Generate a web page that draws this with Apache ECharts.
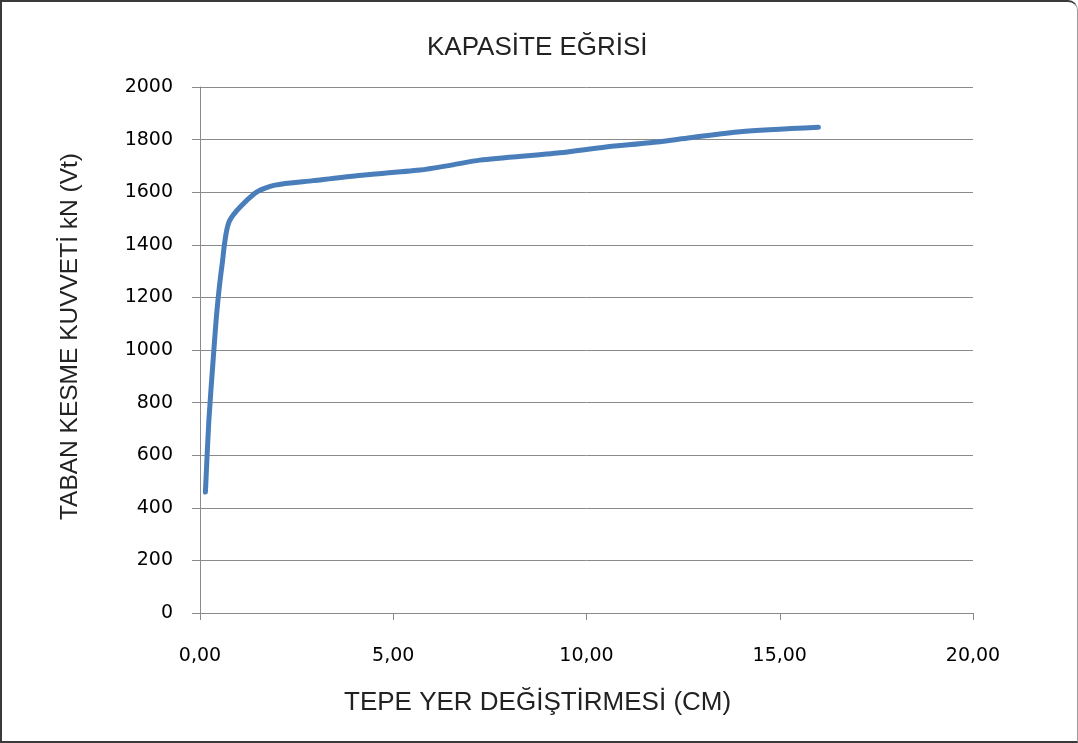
<!DOCTYPE html>
<html>
<head>
<meta charset="utf-8">
<script src="https://cdn.jsdelivr.net/npm/echarts@6/dist/echarts.min.js"></script>
<style>
html,body{margin:0;padding:0;background:#fff;}
#frame{position:absolute;left:0;top:0;width:1078px;height:743px;box-sizing:border-box;border:2px solid #3a3a3a;border-right:1px solid #9a9a9a;border-top-right-radius:10px;}
#chart{position:absolute;left:0;top:0;width:1078px;height:743px;}
</style>
</head>
<body>
<div id="chart"></div>
<div id="frame"></div>
<script>
const chartTitle = 'KAPASİTE EĞRİSİ';
const xTitle = 'TEPE YER DEĞİŞTİRMESİ (CM)';
const yTitle = 'TABAN KESME KUVVETİ kN (Vt)';
const displacement = [0.14, 0.23, 0.34, 0.44, 0.57, 0.76, 1.42, 1.94, 2.93, 4.00, 5.69, 6.50, 7.24, 9.31, 10.50, 11.64, 12.68, 13.97, 16.00];
const baseShear   = [460, 734, 962, 1152, 1323, 1490, 1596, 1627, 1644, 1662, 1684, 1703, 1722, 1750, 1772, 1788, 1807, 1830, 1847];
const xTicks = [0, 5, 10, 15, 20];
const yTicks = [0, 200, 400, 600, 800, 1000, 1200, 1400, 1600, 1800, 2000];

const chart = echarts.init(document.getElementById('chart'));
const gray = '#8a8a8a';
chart.setOption({
  animation: false,
  backgroundColor: '#fff',
  graphic: [
    {type:'text', left: 427, top: 35, style:{text: chartTitle, font: '26px "Liberation Sans"', fill:'#222'}},
    {type:'text', left: 344, top: 690, style:{text: xTitle, font: '26px "Liberation Sans"', fill:'#222'}},
    {type:'text', left: 58, top: 153, rotation: Math.PI/2, style:{text: yTitle, font: '24.5px "Liberation Sans"', fill:'#222'}}
  ],
  grid: {left: 200, right: 105, top: 87, bottom: 130, containLabel: false},
  xAxis: {
    type: 'value', min: xTicks[0], max: xTicks[xTicks.length-1], interval: 5,
    axisLine: {show: true, lineStyle: {color: gray, width: 1}},
    axisTick: {show: true, inside: false, length: 7, lineStyle: {color: gray}},
    splitLine: {show: false},
    axisLabel: {margin: 34, color: '#000', fontFamily: 'DejaVu Sans', fontSize: 19,
      formatter: v => v.toFixed(2).replace('.', ',')}
  },
  yAxis: {
    type: 'value', min: yTicks[0], max: yTicks[yTicks.length-1], interval: 200,
    axisLine: {show: true, lineStyle: {color: gray, width: 1}},
    axisTick: {show: true, inside: false, length: 8, lineStyle: {color: gray}},
    splitLine: {show: true, lineStyle: {color: gray, width: 1}},
    axisLabel: {margin: 27, color: '#000', fontFamily: 'DejaVu Sans', fontSize: 19,
      formatter: v => String(v)}
  },
  series: [{
    type: 'line',
    data: displacement.map((x, i) => [x, baseShear[i]]),
    showSymbol: false,
    smooth: 0.25,
    lineStyle: {color: '#4A7EBB', width: 5, cap: 'round'},
    itemStyle: {color: '#4A7EBB'}
  }]
});
</script>
</body>
</html>
